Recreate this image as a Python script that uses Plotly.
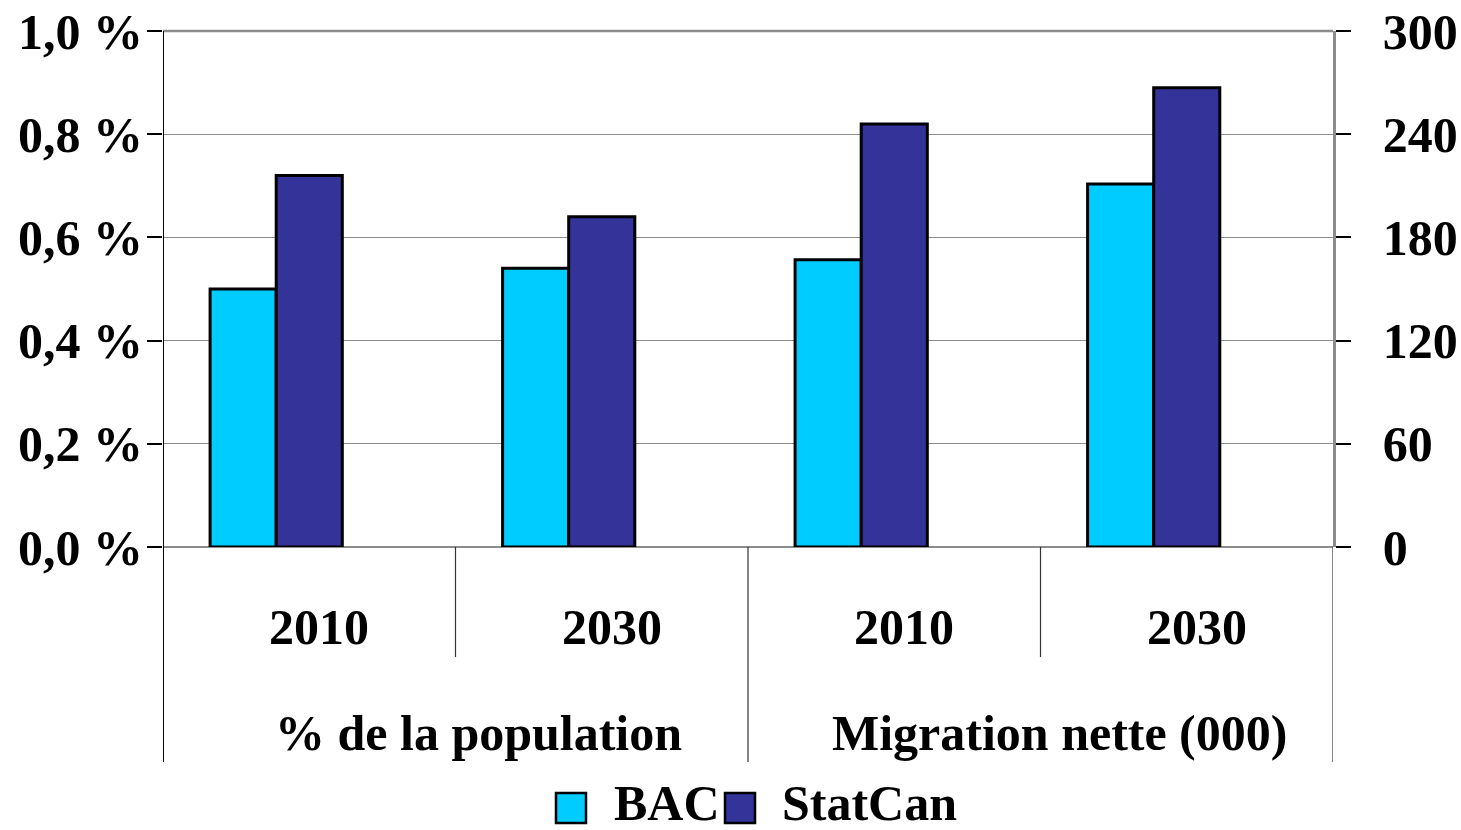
import plotly.graph_objects as go

# ── Data ──────────────────────────────────────────────────────────────
years = ["2010", "2030"]
groups = ["% de la population", "Migration nette (000)"]
series = ["BAC", "StatCan"]

bac_pct = [0.50, 0.54]        # % of population (left axis)
statcan_pct = [0.72, 0.64]
bac_mig = [167, 211]          # net migration, thousands (right axis)
statcan_mig = [246, 267]

pct_ticks = [0, 0.2, 0.4, 0.6, 0.8, 1.0]
pct_labels = ["0,0 %", "0,2 %", "0,4 %", "0,6 %", "0,8 %", "1,0 %"]
mig_ticks = [0, 60, 120, 180, 240, 300]

COLORS = {"BAC": "#00CCFF", "StatCan": "#333399"}
FONT = dict(family="Liberation Serif", size=50, color="black", weight="bold")

# plot area in pixels: x 163..1333, y 31..547
W_PLOT, H_PLOT = 1170, 516


def py(p):
    return (547 - p) / H_PLOT


def px(p):
    return (p - 163) / W_PLOT


fig = go.Figure()

BAR_W = 0.226
OFFSETS = {"BAC": -0.339, "StatCan": -0.113}

pos_pct = [0, 1]
pos_mig = [2, 3]

for name, vals in (("BAC", bac_pct), ("StatCan", statcan_pct)):
    fig.add_trace(go.Bar(
        x=pos_pct, y=vals, name=name, yaxis="y",
        width=BAR_W, offset=OFFSETS[name],
        marker=dict(color=COLORS[name], line=dict(color="black", width=3)),
        showlegend=False,
    ))
for name, vals in (("BAC", bac_mig), ("StatCan", statcan_mig)):
    fig.add_trace(go.Bar(
        x=pos_mig, y=vals, name=name, yaxis="y2",
        width=BAR_W, offset=OFFSETS[name],
        marker=dict(color=COLORS[name], line=dict(color="black", width=3)),
        showlegend=False,
    ))

shapes = []
# category dividers below the axis
for i, xv in enumerate([-0.5, 0.5, 1.5, 2.5, 3.5]):
    long_line = i % 2 == 0
    shapes.append(dict(
        type="line", xref="x", yref="paper",
        x0=xv, x1=xv, y0=1 if i == 0 else 0, y1=py(762) if long_line else py(657),
        line=dict(color="black" if i == 0 else "#333333", width=2 if i == 0 else 1.2),
        layer="above",
    ))
# top frame line
shapes.append(dict(type="line", xref="paper", yref="paper", x0=0, x1=1, y0=1, y1=1,
                   line=dict(color="#8c8c8c", width=2.5), layer="below"))

annotations = []
all_years = years + years
for i, yr in enumerate(all_years):
    annotations.append(dict(
        x=i + 0.035, xref="x", y=py(627), yref="paper", text=yr, showarrow=False,
        font=FONT, xanchor="center", yanchor="middle",
    ))
for xc, g in zip([478, 1059], groups):
    annotations.append(dict(
        x=px(xc), xref="paper", y=py(733), yref="paper", text=g, showarrow=False,
        font=FONT, xanchor="center", yanchor="middle",
    ))

# legend drawn manually so squares match the reference size
legend_items = [("BAC", 556, 612), ("StatCan", 725, 780)]
for name, sq_x, tx in legend_items:
    shapes.append(dict(
        type="rect", xref="paper", yref="paper",
        x0=px(sq_x), x1=px(sq_x + 30), y0=py(823), y1=py(793),
        fillcolor=COLORS[name], line=dict(color="black", width=2.5),
    ))
    annotations.append(dict(
        x=px(tx), xref="paper", y=py(803), yref="paper", text=name, showarrow=False,
        font=FONT, xanchor="left", yanchor="middle",
    ))

fig.update_layout(
    width=1461, height=830,
    margin=dict(l=163, r=128, t=31, b=283, autoexpand=False),
    paper_bgcolor="white", plot_bgcolor="white",
    barmode="overlay",
    font=FONT,
    xaxis=dict(
        range=[-0.5, 3.5], showticklabels=False, ticks="", showgrid=False,
        zeroline=False, showline=False, fixedrange=True, automargin=False,
    ),
    yaxis=dict(
        range=[0, 1.0], tickvals=pct_ticks, ticktext=pct_labels,
        ticks="outside", ticklen=15, tickcolor="black", tickwidth=1.5,
        showgrid=True, gridcolor="#8c8c8c", gridwidth=1,
        showline=False, zeroline=True,
        zerolinecolor="#8c8c8c", zerolinewidth=2,
        tickfont=FONT, ticklabelstandoff=-6, automargin=False,
    ),
    yaxis2=dict(
        overlaying="y", side="right", range=[0, 300],
        tickvals=mig_ticks,
        ticks="outside", ticklen=15, tickcolor="black", tickwidth=1.5,
        showgrid=False, zeroline=False,
        showline=True, linecolor="#8c8c8c", linewidth=2.5,
        tickfont=FONT, ticklabelstandoff=22, automargin=False,
    ),
    shapes=shapes,
    annotations=annotations,
    showlegend=False,
)

fig.write_html(
    "out.html",
    config={"displayModeBar": False},
    post_script="document.body.style.margin='0';",
)
